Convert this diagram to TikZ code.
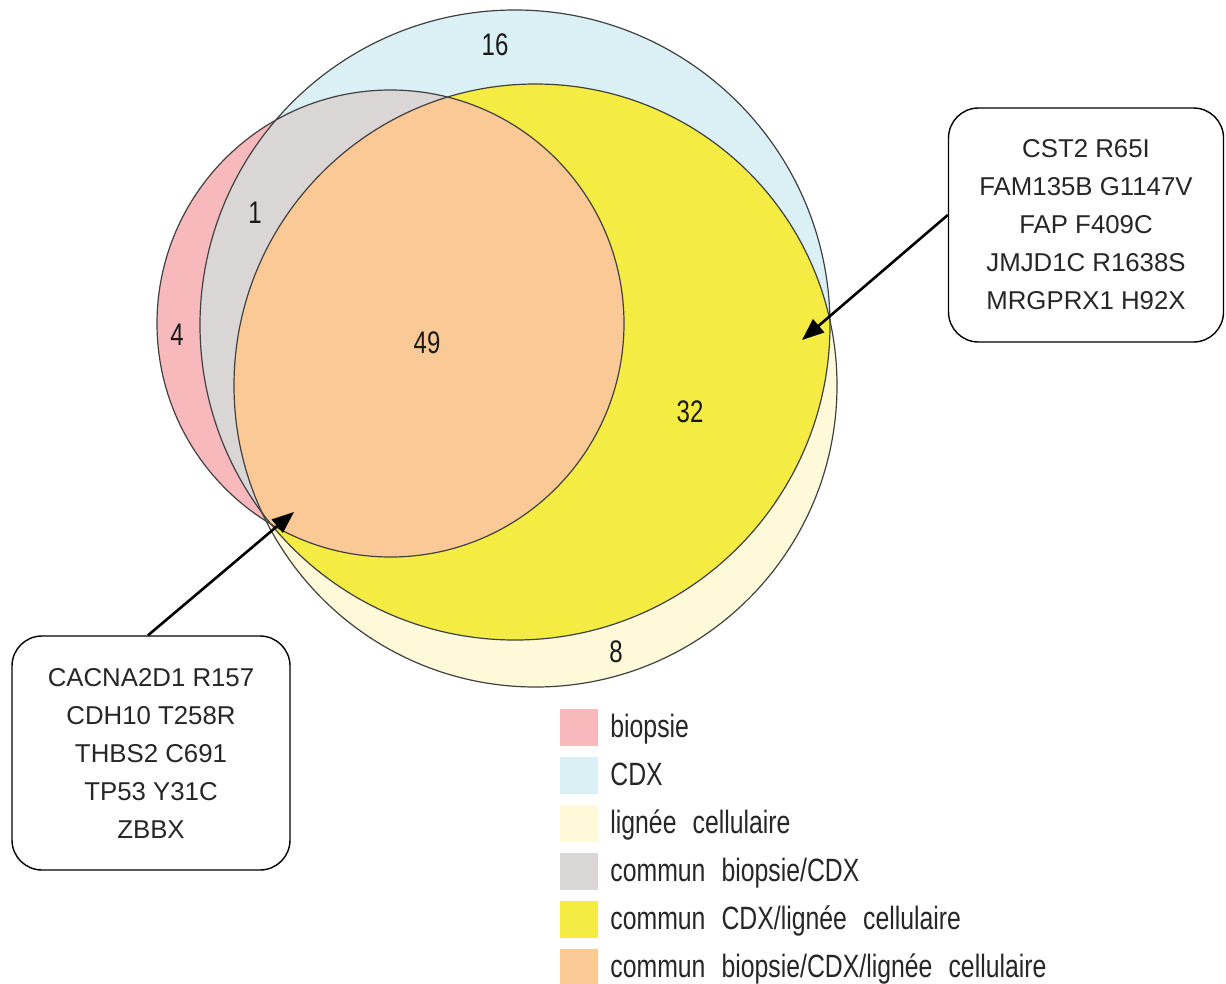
\documentclass[tikz,border=0pt]{standalone}
\usepackage{fontspec}
\setmainfont{Liberation Sans}
\usepackage{graphicx}
\usepackage{xcolor}
\usetikzlibrary{arrows.meta,positioning,calc}

\definecolor{biopCol}{HTML}{F8B9BD}
\definecolor{cdxCol}{HTML}{DBF0F5}
\definecolor{cellCol}{HTML}{FDF9D9}
\definecolor{bcCol}{HTML}{DAD6D6}
\definecolor{ccCol}{HTML}{F4EC43}
\definecolor{allCol}{HTML}{FBC996}
\newcommand{\tallbox}[1]{\scalebox{1}[1.3]{#1}}
\newcommand{\legfont}{\fontsize{24.8}{30}\selectfont\spaceskip=0.65em\relax}

\begin{document}
\begin{tikzpicture}[x=1pt, y=-1pt,
  ring/.style={draw=black!75, line width=1.2pt},
  vnum/.style={font=\fontsize{24}{28}\selectfont, text=black!90, inner sep=0pt},
  callout/.style={draw, line width=1.4pt, rounded corners=30pt, align=center, minimum height=234pt, font=\fontsize{25.8}{38}\selectfont, text=black!85},
  swatch/.style={minimum width=38pt, minimum height=37pt, inner sep=0pt},
  legtext/.style={anchor=base west, inner sep=0pt, font=\legfont, text=black!85},
  arr/.style={-{Triangle[length=22pt, width=17pt]}, line width=2.6pt}]
  \useasboundingbox (0,0) rectangle (1226,983);
  % the three sets
  \coordinate (cBio) at (390.5,323.5);
  \coordinate (cCdx) at (515,325);
  \coordinate (cCell) at (535.5,385.5);
  \fill[biopCol] (cBio) circle[radius=233.5];
  \fill[cdxCol] (cCdx) circle[radius=315];
  \fill[cellCol] (cCell) circle[radius=301.5];
  \begin{scope}
    \clip (cBio) circle[radius=233.5];
    \fill[bcCol] (cCdx) circle[radius=315];
  \end{scope}
  \begin{scope}
    \clip (cCdx) circle[radius=315];
    \fill[ccCol] (cCell) circle[radius=301.5];
  \end{scope}
  \begin{scope}
    \clip (cBio) circle[radius=233.5];
    \clip (cCdx) circle[radius=315];
    \fill[allCol] (cCell) circle[radius=301.5];
  \end{scope}
  \draw[ring] (cBio) circle[radius=233.5];
  \draw[ring] (cCdx) circle[radius=315];
  \draw[ring] (cCell) circle[radius=301.5];
  % counts
  \node[vnum] (n16) at (495,45) {\tallbox{16}};
  \node[vnum] (n1) at (255,213) {\tallbox{1}};
  \node[vnum] (n4) at (177,335) {\tallbox{4}};
  \node[vnum] (n49) at (427,343) {\tallbox{49}};
  \node[vnum] (n32) at (690,412) {\tallbox{32}};
  \node[vnum] (n8) at (616,652) {\tallbox{8}};
  % mutation lists
  \node[callout, minimum width=275pt] (rbox) at (1086,225) {CST2 R65I\\FAM135B G1147V\\FAP F409C\\JMJD1C R1638S\\MRGPRX1 H92X};
  \node[callout, minimum width=278pt] (lbox) at (151,753) {CACNA2D1 R157\\CDH10 T258R\\THBS2 C691\\TP53 Y31C\\ZBBX};
  \coordinate (hitR) at (802,340);
  \coordinate (hitL) at (294,512);
  \draw[arr] ([yshift=10pt]rbox.west) -- (hitR);
  \draw[arr] ([xshift=-3pt]lbox.north) -- (hitL);
  % legend
  \node[swatch, fill=biopCol] (sw1) at (579,727) {};
  \node[swatch, fill=cdxCol, below=10.7pt of sw1] (sw2) {};
  \node[swatch, fill=cellCol, below=10.7pt of sw2] (sw3) {};
  \node[swatch, fill=bcCol, below=10.7pt of sw3] (sw4) {};
  \node[swatch, fill=ccCol, below=10.7pt of sw4] (sw5) {};
  \node[swatch, fill=allCol, below=10.7pt of sw5] (sw6) {};
  \node[legtext] (lg1) at ([xshift=12pt, yshift=-10pt]sw1.east) {\tallbox{biopsie}};
  \node[legtext] (lg2) at ([xshift=12pt, yshift=-10pt]sw2.east) {\tallbox{CDX}};
  \node[legtext] (lg3) at ([xshift=12pt, yshift=-10pt]sw3.east) {\tallbox{lignée cellulaire}};
  \node[legtext] (lg4) at ([xshift=12pt, yshift=-10pt]sw4.east) {\tallbox{commun biopsie/CDX}};
  \node[legtext] (lg5) at ([xshift=12pt, yshift=-10pt]sw5.east) {\tallbox{commun CDX/lignée cellulaire}};
  \node[legtext] (lg6) at ([xshift=12pt, yshift=-10pt]sw6.east) {\tallbox{commun biopsie/CDX/lignée cellulaire}};
\end{tikzpicture}
\end{document}
